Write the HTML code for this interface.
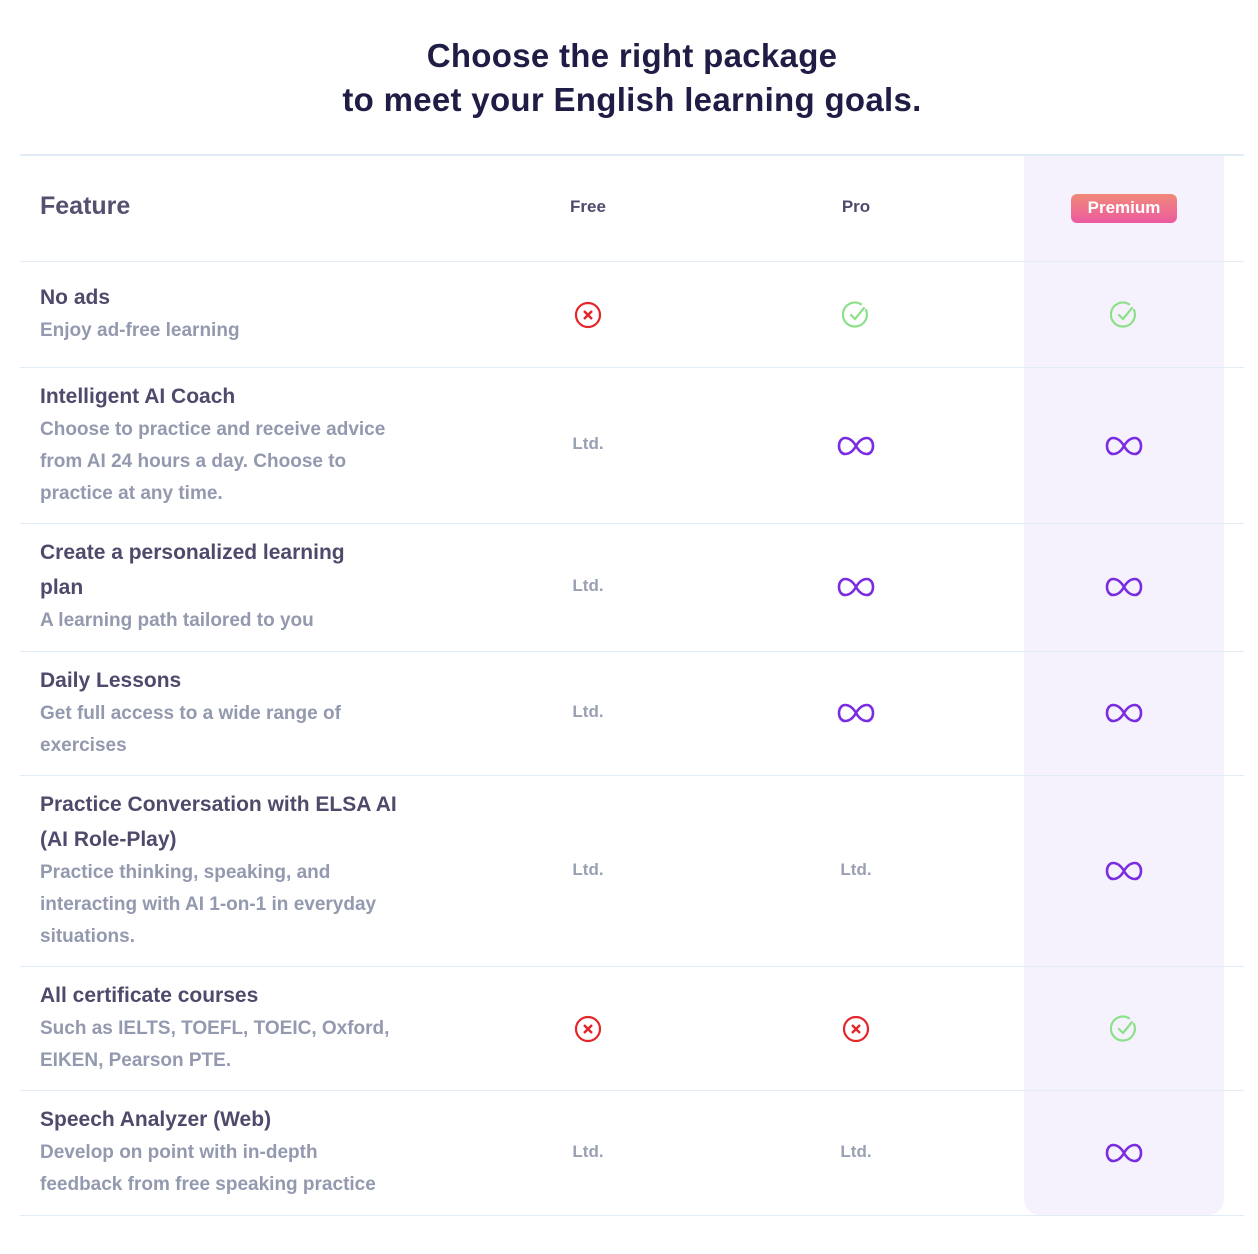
<!DOCTYPE html>
<html><head><meta charset="utf-8"><style>
*{margin:0;padding:0;box-sizing:border-box}
body{width:1258px;height:1254px;background:#fff;font-family:"Liberation Sans",sans-serif;position:relative;overflow:hidden}
.t{position:absolute;left:0;width:1264px;text-align:center;font-weight:bold;font-size:33px;color:#1f1d45;line-height:44px;letter-spacing:0.3px}
.line{position:absolute;left:20px;width:1224px;height:1px;background:#e2ecf7}
.hl{position:absolute;left:1024px;top:155px;width:200px;height:1060px;background:#f6f2fd;border-radius:0 0 16px 16px}
.f{position:absolute;left:40px;width:600px}
.f b{display:block;font-size:21px;color:#4f4a6b;line-height:35px;font-weight:bold}
.f span{display:block;font-size:19px;color:#9399ae;line-height:32px;font-weight:bold}
.c{position:absolute;transform:translate(-50%,-50%);font-size:17px;font-weight:bold;color:#9aa0b3}
.h{position:absolute;transform:translate(-50%,-50%);font-size:17px;font-weight:bold;color:#4f4a6b}
.badge{position:absolute;left:1071px;top:194px;width:106px;height:29px;border-radius:6px;background:linear-gradient(#f08a78,#ec5aa0);color:#fff;font-weight:bold;font-size:17px;text-align:center;line-height:28px}
</style></head><body>
<div class="t" style="top:34px">Choose the right package</div>
<div class="t" style="top:78px">to meet your English learning goals.</div>
<div class="hl"></div>
<div class="line" style="top:154px;height:2px"></div>
<div class="line" style="top:261px"></div>
<div class="line" style="top:367px"></div>
<div class="line" style="top:523px"></div>
<div class="line" style="top:651px"></div>
<div class="line" style="top:775px"></div>
<div class="line" style="top:966px"></div>
<div class="line" style="top:1090px"></div>
<div class="line" style="top:1215px"></div>
<div style="position:absolute;left:40px;top:192px;font-size:25px;font-weight:bold;color:#55506f">Feature</div>
<div class="h" style="left:588px;top:207px">Free</div>
<div class="h" style="left:856px;top:207px">Pro</div>
<div class="badge">Premium</div>
<svg width="0" height="0" style="position:absolute"><defs>
<g id="x"><circle cx="14" cy="14" r="12" fill="none" stroke="#e3262a" stroke-width="2.2"/><path d="M10 10l8 8M18 10l-8 8" stroke="#e3262a" stroke-width="2.4"/></g>
<g id="k"><path d="M24 9A12 12 0 1 1 19 3.2" fill="none" stroke="#8de08a" stroke-width="2.2" stroke-linecap="round"/><path d="M9 14l4 4 9-11" fill="none" stroke="#8de08a" stroke-width="2.2" stroke-linecap="round"/></g>
<g id="i"><path d="M19 10C15 3 11 2 8 2S2 5 2 10s3 8 6 8 7-1 11-8 8-8 11-8 6 3 6 8-3 8-6 8-7-1-11-8z" fill="none" stroke="#7a2de0" stroke-width="2.6"/></g>
</defs></svg>
<div class="f" style="top:280px"><b>No ads</b><span>Enjoy ad-free learning</span></div>
<svg style="position:absolute;left:574px;top:301px" width="28" height="28"><use href="#x"/></svg>
<svg style="position:absolute;left:842px;top:301px" width="28" height="28"><use href="#k"/></svg>
<svg style="position:absolute;left:1110px;top:301px" width="28" height="28"><use href="#k"/></svg>

<div class="f" style="top:379px"><b>Intelligent AI Coach</b><span>Choose to practice and receive advice<br>from AI 24 hours a day. Choose to<br>practice at any time.</span></div>
<div class="c" style="left:588px;top:444px">Ltd.</div>
<svg style="position:absolute;left:837px;top:436px" width="38" height="20"><use href="#i"/></svg>
<svg style="position:absolute;left:1105px;top:436px" width="38" height="20"><use href="#i"/></svg>

<div class="f" style="top:535px"><b>Create a personalized learning<br>plan</b><span>A learning path tailored to you</span></div>
<div class="c" style="left:588px;top:586px">Ltd.</div>
<svg style="position:absolute;left:837px;top:577px" width="38" height="20"><use href="#i"/></svg>
<svg style="position:absolute;left:1105px;top:577px" width="38" height="20"><use href="#i"/></svg>

<div class="f" style="top:663px"><b>Daily Lessons</b><span>Get full access to a wide range of<br>exercises</span></div>
<div class="c" style="left:588px;top:712px">Ltd.</div>
<svg style="position:absolute;left:837px;top:703px" width="38" height="20"><use href="#i"/></svg>
<svg style="position:absolute;left:1105px;top:703px" width="38" height="20"><use href="#i"/></svg>

<div class="f" style="top:787px"><b>Practice Conversation with ELSA AI<br>(AI Role-Play)</b><span>Practice thinking, speaking, and<br>interacting with AI 1-on-1 in everyday<br>situations.</span></div>
<div class="c" style="left:588px;top:870px">Ltd.</div>
<div class="c" style="left:856px;top:870px">Ltd.</div>
<svg style="position:absolute;left:1105px;top:861px" width="38" height="20"><use href="#i"/></svg>

<div class="f" style="top:978px"><b>All certificate courses</b><span>Such as IELTS, TOEFL, TOEIC, Oxford,<br>EIKEN, Pearson PTE.</span></div>
<svg style="position:absolute;left:574px;top:1015px" width="28" height="28"><use href="#x"/></svg>
<svg style="position:absolute;left:842px;top:1015px" width="28" height="28"><use href="#x"/></svg>
<svg style="position:absolute;left:1110px;top:1015px" width="28" height="28"><use href="#k"/></svg>

<div class="f" style="top:1102px"><b>Speech Analyzer (Web)</b><span>Develop on point with in-depth<br>feedback from free speaking practice</span></div>
<div class="c" style="left:588px;top:1152px">Ltd.</div>
<div class="c" style="left:856px;top:1152px">Ltd.</div>
<svg style="position:absolute;left:1105px;top:1143px" width="38" height="20"><use href="#i"/></svg>
</body></html>
